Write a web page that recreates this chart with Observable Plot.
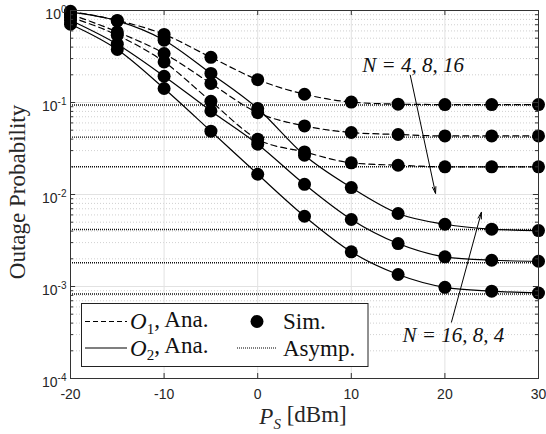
<!DOCTYPE html>
<html><head><meta charset="utf-8">
<script src="https://cdn.jsdelivr.net/npm/d3@7"></script>
<script src="https://cdn.jsdelivr.net/npm/@observablehq/plot@0.6"></script>
<style>body{margin:0;background:#fff}#chart{width:546px;height:434px}</style>
</head><body><div id="chart"></div>
<script>
// ---- data ----
const powerDbm = [-20, -15, -10, -5, 0, 5, 10, 15, 20, 25, 30];
const o1N4  = [0.98, 0.78, 0.55, 0.31, 0.177, 0.123, 0.101, 0.096, 0.095, 0.095, 0.095];
const o1N8  = [0.91, 0.585, 0.341, 0.161, 0.0775, 0.0557, 0.0472, 0.0449, 0.0433, 0.0433, 0.0433];
const o1N16 = [0.846, 0.539, 0.276, 0.103, 0.0399, 0.029, 0.0221, 0.0208, 0.020, 0.020, 0.020];
const o2N4  = [0.958, 0.771, 0.476, 0.207, 0.086, 0.0267, 0.0119, 0.00622, 0.00475, 0.0042, 0.00405];
const o2N8  = [0.784, 0.430, 0.193, 0.081, 0.0352, 0.0129, 0.00535, 0.00293, 0.0021, 0.00193, 0.00188];
const o2N16 = [0.71, 0.377, 0.142, 0.0488, 0.0166, 0.0058, 0.00238, 0.00135, 0.00098, 0.00089, 0.00085];
const asymO1 = [0.094, 0.042, 0.020];
const asymO2 = [0.00416, 0.00181, 0.00083];
const xTicks = [-20, -10, 0, 10, 20, 30];
const yDecades = [1e-4, 1e-3, 1e-2, 1e-1, 1];
const annotText = ["N = 4, 8, 16", "N = 16, 8, 4"];
const annotX = [16.6, 20.9];
const annotY = [0.254, 0.000295];
const arrowX1 = [16.3, 20.7];
const arrowY1 = [0.198, 0.00041];
const arrowX2 = [19.0, 23.9];
const arrowY2 = [0.0103, 0.0064];

// ---- tables built from the arrays ----
const series = [
  {kind: "O1", N: 4, v: o1N4}, {kind: "O1", N: 8, v: o1N8}, {kind: "O1", N: 16, v: o1N16},
  {kind: "O2", N: 4, v: o2N4}, {kind: "O2", N: 8, v: o2N8}, {kind: "O2", N: 16, v: o2N16}
];
const rows = series.flatMap(s => powerDbm.map((x, i) => ({kind: s.kind, N: s.N, x, y: s.v[i]})));
const minorY = yDecades.slice(0, -1).flatMap(d => [2,3,4,5,6,7,8,9].map(m => m * d));
const annots = annotText.map((t, i) => ({t, x: annotX[i], y: annotY[i]}));
const arrows = arrowX1.map((_, i) => ({x1: arrowX1[i], y1: arrowY1[i], x2: arrowX2[i], y2: arrowY2[i]}));

const xMin = -20, xMax = 30;
const tickLenX = 0.55, minorLenX = 0.33;
const tickFacY = Math.pow(10, 5 / 92);

const plot = Plot.plot({
  width: 546, height: 434,
  marginLeft: 70, marginRight: 8, marginTop: 10, marginBottom: 56,
  style: {fontFamily: "Liberation Sans, Arial, sans-serif", fontSize: "14px", color: "#262626", background: "#fff"},
  x: {domain: [xMin, xMax], label: null},
  y: {type: "log", domain: [1e-4, 1], label: null},
  marks: [
    Plot.ruleY(minorY, {stroke: "#c4c4c4", strokeDasharray: "1,2", strokeWidth: 0.8}),
    Plot.ruleY(yDecades.slice(1, -1), {stroke: "#e2e2e2", strokeWidth: 1}),
    Plot.ruleX(xTicks.slice(1, -1), {stroke: "#e2e2e2", strokeWidth: 1}),
    Plot.ruleY(asymO1.concat(asymO2), {stroke: "#111", strokeDasharray: "1,1", strokeWidth: 1.4}),
    Plot.line(rows.filter(d => d.kind === "O1"), {x: "x", y: "y", z: "N", stroke: "#000", strokeWidth: 1.2, strokeDasharray: "6,4", curve: "monotone-x"}),
    Plot.line(rows.filter(d => d.kind === "O2"), {x: "x", y: "y", z: "N", stroke: "#000", strokeWidth: 1.2, curve: "monotone-x"}),
    Plot.dot(rows, {x: "x", y: "y", r: 6.5, fill: "#000", stroke: null}),
    Plot.ruleX(xTicks, {x: d => d, y1: 1e-4, y2: 1e-4 * tickFacY, stroke: "#333"}),
    Plot.ruleX(xTicks, {x: d => d, y1: 1, y2: 1 / tickFacY, stroke: "#333"}),
    Plot.ruleY(yDecades, {y: d => d, x1: xMin, x2: xMin + tickLenX, stroke: "#333"}),
    Plot.ruleY(yDecades, {y: d => d, x1: xMax, x2: xMax - tickLenX, stroke: "#333"}),
    Plot.ruleY(minorY, {y: d => d, x1: xMin, x2: xMin + minorLenX, stroke: "#333"}),
    Plot.ruleY(minorY, {y: d => d, x1: xMax, x2: xMax - minorLenX, stroke: "#333"}),
    Plot.frame({stroke: "#333", strokeWidth: 1}),
    Plot.arrow(arrows, {x1: "x1", y1: "y1", x2: "x2", y2: "y2", stroke: "#000", strokeWidth: 1, headLength: 10, headAngle: 30}),
    Plot.text(annots, {x: "x", y: "y", text: "t", fontFamily: "Liberation Serif, serif", fontStyle: "italic", fontSize: 21, fill: "#111"}),
    Plot.axisX({ticks: xTicks, tickSize: 0, tickPadding: 11, tickFormat: d => String(d), fill: "#262626"}),
    Plot.axisY({ticks: yDecades, tickSize: 0, tickPadding: 4, dy: 4, tickFormat: d => "10^" + Math.round(Math.log10(d)), fill: "#262626"})
  ]
});
document.getElementById("chart").appendChild(plot);

const svg = d3.select(plot);
svg.selectAll('g[aria-label="x-axis tick label"]').attr("font-size", 14);
svg.selectAll('g[aria-label="y-axis tick label"]').attr("font-size", 14);
svg.selectAll('g[aria-label="y-axis tick label"] text').each(function () {
  const t = d3.select(this);
  const txt = t.text();
  if (txt.indexOf("^") < 0) return;
  const exp = txt.split("^")[1];
  t.text(null);
  t.append("tspan").text("10");
  t.append("tspan").attr("dy", "-0.55em").attr("font-size", "10px").text(exp);
});

const serif = "Liberation Serif, 'Times New Roman', serif";
svg.append("text").attr("transform", "translate(25,192) rotate(-90)")
  .attr("text-anchor", "middle").attr("font-family", serif).attr("font-size", 23).attr("fill", "#262626")
  .text("Outage Probability");
const xl = svg.append("text").attr("x", 303).attr("y", 424).attr("text-anchor", "middle")
  .attr("font-family", serif).attr("font-size", 23).attr("fill", "#262626");
xl.append("tspan").attr("font-style", "italic").text("P");
xl.append("tspan").attr("font-style", "italic").attr("font-size", 15).attr("dy", "0.3em").text("S");
xl.append("tspan").attr("dy", "-0.3em").text(" [dBm]");

// legend
const lg = svg.append("g").attr("font-family", serif).attr("font-size", 23).attr("fill", "#111")
  .attr("text-anchor", "start");
lg.append("rect").attr("x", 81.5).attr("y", 303.5).attr("width", 286.5).attr("height", 63)
  .attr("fill", "#fff").attr("stroke", "#222").attr("stroke-width", 1);
const rowY = [321.5, 348];
lg.append("line").attr("x1", 85).attr("x2", 127).attr("y1", rowY[0]).attr("y2", rowY[0])
  .attr("stroke", "#000").attr("stroke-width", 1.2).attr("stroke-dasharray", "5,3");
lg.append("line").attr("x1", 85).attr("x2", 127).attr("y1", rowY[1]).attr("y2", rowY[1])
  .attr("stroke", "#000").attr("stroke-width", 1.2);
lg.append("line").attr("x1", 237).attr("x2", 277).attr("y1", rowY[1]).attr("y2", rowY[1])
  .attr("stroke", "#000").attr("stroke-width", 1.2).attr("stroke-dasharray", "1,1");
lg.append("circle").attr("cx", 257).attr("cy", rowY[0]).attr("r", 6.5).attr("fill", "#000");
["1", "2"].forEach((k, i) => {
  const t = lg.append("text").attr("x", 130).attr("y", rowY[i] + 7.5).attr("text-anchor", "start");
  t.append("tspan").attr("font-style", "italic").text("O");
  t.append("tspan").attr("font-size", 15).attr("dy", "0.3em").text(k);
  t.append("tspan").attr("dy", "-0.3em").text(", Ana.");
});
lg.append("text").attr("x", 283).attr("y", rowY[0] + 7.5).attr("text-anchor", "start").text("Sim.");
lg.append("text").attr("x", 283).attr("y", rowY[1] + 7.5).attr("text-anchor", "start").text("Asymp.");
</script>
</body></html>
